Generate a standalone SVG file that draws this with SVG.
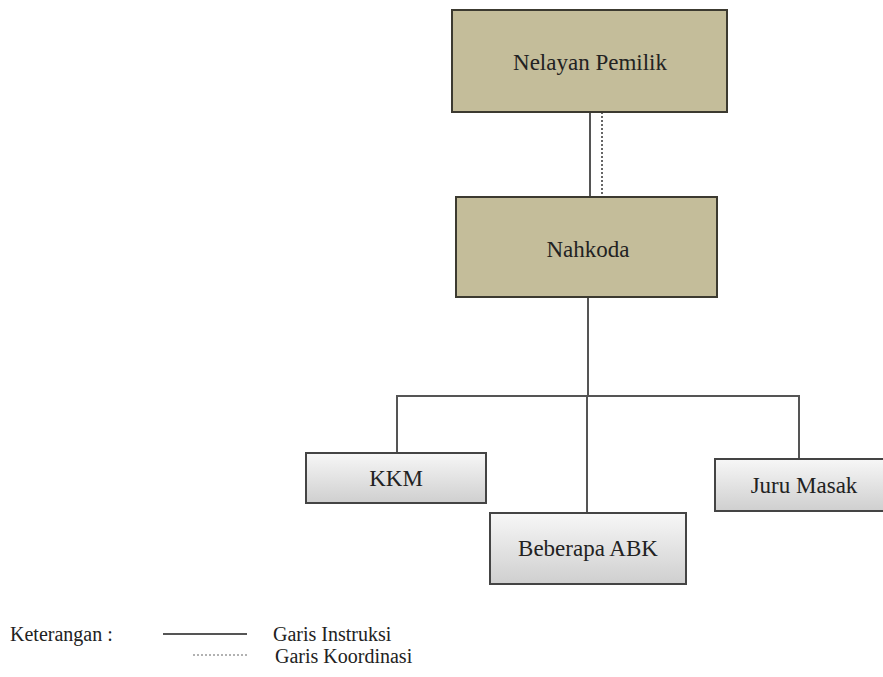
<svg xmlns="http://www.w3.org/2000/svg" width="883" height="677" viewBox="0 0 883 677">
<style>
  .tan { fill: #c4bd9a; stroke: #3c3a30; stroke-width: 2; }
  .grey { fill: url(#greyGrad); stroke: #444; stroke-width: 2; }
  .lbl { font-family: "Liberation Serif", "Times New Roman", serif; font-size: 23px; fill: #222; text-anchor: middle; }
  .leg { font-family: "Liberation Serif", "Times New Roman", serif; font-size: 20px; fill: #222; }
  .ln { stroke: #555; stroke-width: 2; fill: none; }
  .dash { stroke: #666; stroke-width: 2; fill: none; stroke-dasharray: 2 2; }
</style>
<defs>
  <linearGradient id="greyGrad" x1="0" y1="0" x2="0" y2="1">
    <stop offset="0" stop-color="#f7f7f7"/>
    <stop offset="1" stop-color="#cfcfcf"/>
  </linearGradient>
</defs>
<rect width="883" height="677" fill="#ffffff"/>
<g id="connectors">
  <line class="ln" x1="590" y1="112" x2="590" y2="197"/>
  <line class="dash" x1="602" y1="112" x2="602" y2="197"/>
  <line class="ln" x1="588" y1="297" x2="588" y2="396"/>
  <line class="ln" x1="396" y1="396" x2="800" y2="396"/>
  <line class="ln" x1="397" y1="396" x2="397" y2="453"/>
  <line class="ln" x1="587" y1="396" x2="587" y2="513"/>
  <line class="ln" x1="799" y1="396" x2="799" y2="459"/>
</g>
<g id="nelayan-pemilik">
  <rect class="tan" x="452" y="10" width="275" height="102"/>
  <text class="lbl" x="590" y="70">Nelayan Pemilik</text>
</g>
<g id="nahkoda">
  <rect class="tan" x="456" y="197" width="261" height="100"/>
  <text class="lbl" x="588" y="257">Nahkoda</text>
</g>
<g id="kkm">
  <rect class="grey" x="306" y="453" width="180" height="50"/>
  <text class="lbl" x="396" y="486">KKM</text>
</g>
<g id="beberapa-abk">
  <rect class="grey" x="490" y="513" width="196" height="71"/>
  <text class="lbl" x="588" y="556">Beberapa ABK</text>
</g>
<g id="juru-masak">
  <rect class="grey" x="715" y="459" width="180" height="52"/>
  <text class="lbl" x="804" y="493">Juru Masak</text>
</g>
<g id="legend">
  <text class="leg" x="10" y="641">Keterangan :</text>
  <line class="ln" x1="163" y1="634" x2="247" y2="634"/>
  <text class="leg" x="273" y="641">Garis Instruksi</text>
  <line class="dash" x1="193" y1="655" x2="248" y2="655" style="stroke-width:1.2"/>
  <text class="leg" x="275" y="663">Garis Koordinasi</text>
</g>
</svg>
